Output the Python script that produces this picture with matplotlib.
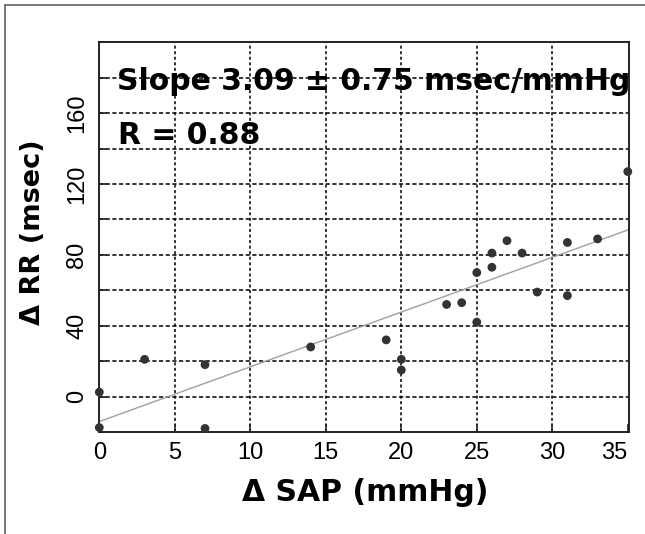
import matplotlib
matplotlib.use("Agg")
import matplotlib.pyplot as plt
from matplotlib import font_manager
from matplotlib.patches import Rectangle
import numpy as np

# ---- data ----
sap = [0, 0, 3, 7, 7, 14, 19, 20, 20, 23, 24, 25, 25, 26, 26, 27, 28, 29, 31, 31, 33, 35]
rr = [2.5, -17.5, 21, 18, -18, 28, 32, 21, 15, 52, 53, 42, 70, 73, 81, 88, 81, 59, 87, 57, 89, 127]
slope = 3.09
intercept = -14.1
x_ticks = [0, 5, 10, 15, 20, 25, 30, 35]
y_ticks = [-20, 0, 20, 40, 60, 80, 100, 120, 140, 160, 180, 200]
y_tick_labels = ["", "0", "", "40", "", "80", "", "120", "", "160", "", ""]
slope_text = "Slope 3.09 \u00b1 0.75 msec/mmHg"
r_text = "R = 0.88"
x_label = "\u0394 SAP (mmHg)"
y_label = "\u0394 RR (msec)"

names = {f.name for f in font_manager.fontManager.ttflist}
narrow = "Liberation Sans Narrow" if "Liberation Sans Narrow" in names else "Liberation Sans"

plt.rcParams["lines.scale_dashes"] = False

W, H = 645, 534
fig = plt.figure(figsize=(W / 100, H / 100), dpi=100)
fig.patch.set_facecolor("white")

# outer border (gray frame, open at right/bottom)
fig.patches.append(Rectangle((5 / W, -0.2), 1.2, 1.2 - 5 / H, transform=fig.transFigure,
                             fill=False, edgecolor="#6e6e6e", linewidth=1.3))

ax = fig.add_axes([99.3 / W, (H - 432) / H, (629.3 - 99.3) / W, (432 - 42.3) / H])
ax.set_xlim(0, 35.1)
ax.set_ylim(-20, 200)

# grid
for xv in x_ticks[1:-1]:
    ax.axvline(xv, color="black", linewidth=1.1, linestyle=(0, (2.2, 1.8)), zorder=1)
for yv in y_ticks[1:-1]:
    ax.axhline(yv, color="black", linewidth=1.1, linestyle=(0, (3.0, 1.8)), zorder=1)

# regression line
xl = np.array(ax.get_xlim())
ax.plot(xl, intercept + slope * xl, color="#a0a0a0", linewidth=1.0, zorder=2)

# points
ax.scatter(sap, rr, s=40, color="#333333", edgecolors="none", zorder=3, clip_on=False)

for sp in ax.spines.values():
    sp.set_linewidth(1.4)
    sp.set_color("#222222")

ax.set_xticks(x_ticks)
ax.set_xticklabels([str(v) for v in x_ticks], fontfamily=narrow, fontsize=17)
ax.set_yticks(y_ticks)
ax.set_yticklabels(y_tick_labels, fontfamily=narrow, fontsize=17, rotation=90)
for lab in ax.get_yticklabels():
    lab.set_va("center")
    lab.set_ha("right")
ax.tick_params(axis="both", direction="in", length=6, width=1.2, color="#222222")
ax.tick_params(axis="x", pad=7.5)
ax.tick_params(axis="y", pad=8)
xlabs = ax.get_xticklabels()
xlabs[-1].set_ha("right")

ax.text(1.19, 173, slope_text, fontsize=21.5, fontweight="bold", family="DejaVu Sans",
        ha="left", va="baseline", zorder=4)
ax.text(1.25, 142.5, r_text, fontsize=21.5, fontweight="bold", family="DejaVu Sans",
        ha="left", va="baseline", zorder=4)

fig.text(365.6 / W, 1 - 492.5 / H, x_label, fontsize=21.5, fontweight="bold",
         family="DejaVu Sans", ha="center", va="center")
fig.text(33.3 / W, 1 - 232.5 / H, y_label, fontsize=19.5, fontweight="bold",
         family="DejaVu Sans", ha="center", va="center", rotation=90)

fig.savefig("out.png", dpi=100, facecolor="white")
